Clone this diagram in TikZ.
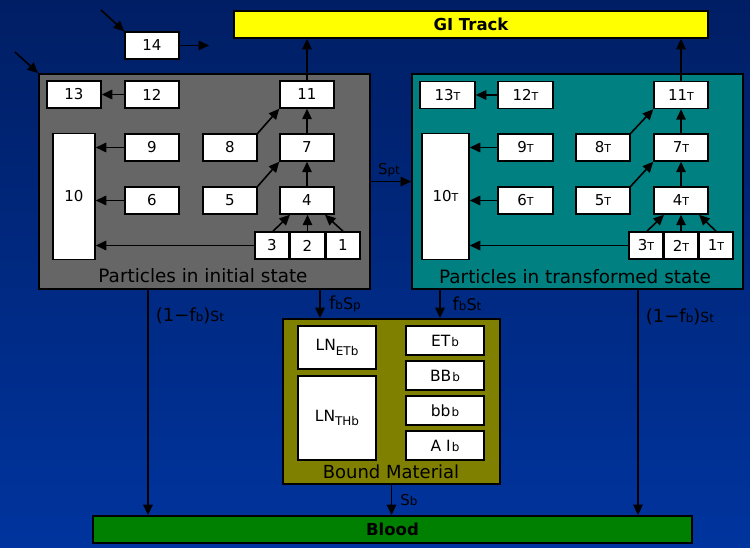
\documentclass[tikz,border=0pt]{standalone}
\usepackage{fontspec}
\setmainfont{DejaVu Sans}
\usetikzlibrary{arrows.meta}
\definecolor{bgtop}{RGB}{0,30,100}
\definecolor{bgbot}{RGB}{0,52,158}
\definecolor{greybox}{RGB}{102,102,102}
\definecolor{tealbox}{RGB}{0,128,128}
\definecolor{olivebox}{RGB}{128,128,0}
\definecolor{greenbox}{RGB}{0,128,0}
\definecolor{yellowbox}{RGB}{255,255,0}
\newcommand\smt[1]{{\fontsize{11}{12}\selectfont #1}}
\newcommand\subl[1]{\raisebox{-4.5pt}{\fontsize{12}{12}\selectfont #1}}
\newcommand\fsz[2]{{\fontsize{#1}{#1}\selectfont #2}}
\begin{document}
\begin{tikzpicture}[x=1pt,y=-1pt,
  >={Triangle[length=10.5pt,width=9.5pt]},
  line width=1.6pt,
  bx/.style={draw=black, fill=white, line width=1.5pt, inner sep=0pt,
    minimum width=54pt, minimum height=27pt, font=\fontsize{15}{18}\selectfont},
  nar/.style={bx, minimum width=34pt},
  tall/.style={bx, minimum width=42pt, minimum height=126pt},
  bmb/.style={bx, minimum width=78pt, font=\fontsize{15.5}{18}\selectfont},
  big/.style={draw=black, line width=1.8pt, inner sep=0pt},
  bar/.style={big, minimum height=27pt, font=\bfseries\fontsize{16.5}{19}\selectfont},
  boxcap/.style={inner sep=0pt, font=\fontsize{18.4}{21}\selectfont},
  lbl/.style={inner sep=0pt, text=black}]
\useasboundingbox (0,0) rectangle (750,548);
\shade[top color=bgtop, bottom color=bgbot] (0,0) rectangle (750,548);

% main containers
\node[bar, fill=yellowbox, minimum width=474pt] (GI) at (471,24.5) {GI Track};
\node[bar, fill=greenbox, minimum width=599pt] (Bl) at (392.5,529.5) {Blood};
\node[big, fill=greybox, minimum width=331pt, minimum height=215pt] (P) at (204.5,181.5) {};
\node[big, fill=tealbox, minimum width=331pt, minimum height=215pt] (T) at (577.5,181.5) {};
\node[big, fill=olivebox, minimum width=217pt, minimum height=165pt] (B) at (391.5,401.5) {};

\node[boxcap] (Pl) at (203,276) {Particles in initial state};
\node[boxcap] (Tl) at (575,277) {Particles in transformed state};
\node[boxcap, font=\fontsize{18}{20}\selectfont] (Bml) at (391,472) {Bound Material};

% initial-state compartments
\node[bx] (n14) at (152,45.5) {14};
\node[bx] (n13) at (74,94.5) {13};
\node[bx] (n12) at (152,94.5) {12};
\node[bx] (n11) at (307,94.5) {11};
\node[bx] (n9) at (152,147.5) {9};
\node[bx] (n8) at (230,147.5) {8};
\node[bx] (n7) at (307,147.5) {7};
\node[bx] (n6) at (152,200.5) {6};
\node[bx] (n5) at (230,200.5) {5};
\node[bx] (n4) at (307,200.5) {4};
\node[tall] (n10) at (74,196.5) {10};
\node[nar] (n3) at (272,245.5) {3};
\node[nar] (n2) at (307.5,245.5) {2};
\node[nar] (n1) at (343,245.5) {1};

% transformed-state compartments
\node[bx, minimum width=55pt] (t13) at (447.5,95) {13\smt{T}};
\node[bx, minimum width=55pt] (t12) at (525.5,95) {12\smt{T}};
\node[bx, minimum width=54pt] (t11) at (681,95) {11\smt{T}};
\node[bx, minimum width=55pt] (t9) at (525.5,147.5) {9\smt{T}};
\node[bx] (t8) at (603,147.5) {8\smt{T}};
\node[bx] (t7) at (681,147.5) {7\smt{T}};
\node[bx, minimum width=55pt] (t6) at (525.5,200.5) {6\smt{T}};
\node[bx] (t5) at (603,200.5) {5\smt{T}};
\node[bx] (t4) at (681,200.5) {4\smt{T}};
\node[tall, minimum width=47pt] (t10) at (445.5,196.5) {10\smt{T}};
\node[nar] (t3) at (646,245.5) {3\smt{T}};
\node[nar] (t2) at (681,245.5) {2\smt{T}};
\node[nar] (t1) at (716,245.5) {1\smt{T}};

% bound material compartments
\node[bmb, minimum height=43pt] (lne) at (337,347.5) {LN\subl{ETb}};
\node[bmb, minimum height=84pt] (lnt) at (337,418) {LN\subl{THb}};
\node[bmb, minimum height=29pt] (etb) at (445,340.5) {ET\hspace{1pt}\fsz{12}{b}};
\node[bmb, minimum height=29pt] (bbB) at (445,375.5) {BB\hspace{1pt}\fsz{12}{b}};
\node[bmb, minimum height=29pt] (bbs) at (445,410.5) {bb\hspace{1pt}\fsz{12}{b}};
\node[bmb, minimum height=29pt] (aib) at (445,445.5) {A\hspace{5pt}I\hspace{1pt}\fsz{12}{b}};

% free ends
\coordinate (a14) at (101,10);
\coordinate (aP) at (15,52);
\coordinate (o14) at (209,45.5);

% connectors: initial state
\draw[->] (a14) -- (n14.north west);
\draw[->] (aP) -- (P.north west);
\draw[->] (n14.east) -- (o14);
\draw[->] (n11.north) -- (n11.north |- GI.south);
\draw[->] (n12.west) -- (n13.east);
\draw[->] (n9.west) -- (n9.west -| n10.east);
\draw[->] (n6.west) -- (n6.west -| n10.east);
\draw[->] (n3.west) -- (n3.west -| n10.east);
\draw[->] ([xshift=1pt]n3.north) -- ([xshift=-17pt]n4.south);
\draw[->] (n2.north) -- (n2.north |- n4.south);
\draw[->] (n1.north) -- ([xshift=18pt]n4.south);
\draw[->] (n4.north) -- (n7.south);
\draw[->] (n7.north) -- (n11.south);
\draw[->] (n5.north east) -- (n7.south west);
\draw[->] (n8.north east) -- (n11.south west);

% connectors: transformed state
\draw[->] (t11.north) -- (t11.north |- GI.south);
\draw[->] (t12.west) -- (t13.east);
\draw[->] (t9.west) -- (t9.west -| t10.east);
\draw[->] (t6.west) -- (t6.west -| t10.east);
\draw[->] (t3.west) -- (t3.west -| t10.east);
\draw[->] ([xshift=1pt]t3.north) -- ([xshift=-17pt]t4.south);
\draw[->] (t2.north) -- (t4.south);
\draw[->] (t1.north) -- ([xshift=18pt]t4.south);
\draw[->] (t4.north) -- (t7.south);
\draw[->] (t7.north) -- (t11.south);
\draw[->] (t5.north east) -- (t7.south west);
\draw[->] (t8.north east) -- (t11.south west);

% between compartments
\draw[->] (P.east) -- (T.west);
\node[lbl] (lspt) at (389,170) {\fsz{15}{S}\fsz{12}{pt}};
\draw[->] ([xshift=115.5pt]P.south) -- ([xshift=115.5pt]P.south |- B.north);
\node[lbl] (lfsp) at (345,304) {\fsz{18}{f}\fsz{12}{b}\fsz{16}{S}\fsz{12}{p}};
\draw[->] ([xshift=-137.5pt]T.south) -- ([xshift=-137.5pt]T.south |- B.north);
\node[lbl] (lfst) at (467,304) {\fsz{18}{f}\fsz{12}{b}\fsz{16}{S}\fsz{12}{t}};
\draw[->] ([xshift=-56.5pt]P.south) -- ([xshift=-56.5pt]P.south |- Bl.north);
\node[lbl] (l1l) at (190,316) {\fsz{18}{(1−f}\fsz{12}{b}\fsz{18}{)}\fsz{14}{S}\fsz{12}{t}};
\draw[->] ([xshift=60.5pt]T.south) -- ([xshift=60.5pt]T.south |- Bl.north);
\node[lbl] (l1r) at (680,317) {\fsz{18}{(1−f}\fsz{12}{b}\fsz{18}{)}\fsz{14}{S}\fsz{12}{t}};
\draw[->] (B.south) -- (B.south |- Bl.north);
\node[lbl] (lsb) at (409,500) {\fsz{15}{S}\fsz{12}{b}};
\end{tikzpicture}
\end{document}
